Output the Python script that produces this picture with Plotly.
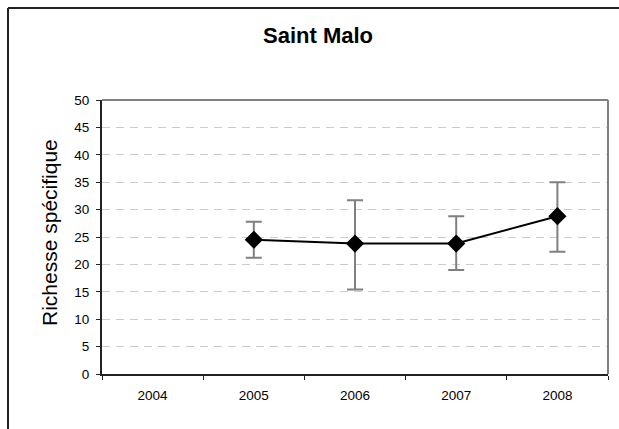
import plotly.graph_objects as go

years = ["2004", "2005", "2006", "2007", "2008"]
richesse = [None, 24.5, 23.8, 23.8, 28.8]
err_plus = [None, 3.3, 7.9, 5.0, 6.2]
err_minus = [None, 3.3, 8.4, 4.8, 6.5]
y_ticks = [0, 5, 10, 15, 20, 25, 30, 35, 40, 45, 50]

FONT = "Liberation Sans, Arial, sans-serif"

fig = go.Figure()
fig.add_trace(go.Scatter(
    x=years, y=richesse, mode="lines+markers",
    line=dict(color="black", width=2),
    marker=dict(symbol="diamond", size=14, color="black"),
    error_y=dict(type="data", symmetric=False, array=err_plus, arrayminus=err_minus,
                 color="#808080", thickness=2, width=8),
    connectgaps=False, showlegend=False,
))

# plot area geometry in pixels
L, R, T, B, W, H = 102, 608, 100, 374, 619, 429
pw, ph = R - L, B - T

def px_x(x):
    return (x - L) / pw

def px_y(y):
    return (B - y) / ph

shapes = [
    # outer chart border (left and top visible)
    dict(type="line", xref="paper", yref="paper", x0=px_x(8), x1=px_x(8), y0=px_y(8), y1=px_y(429),
         line=dict(color="#222222", width=2), layer="above"),
    dict(type="line", xref="paper", yref="paper", x0=px_x(8), x1=px_x(619), y0=px_y(8), y1=px_y(8),
         line=dict(color="#222222", width=2), layer="above"),
    # plot area top and right border (gray)
    dict(type="line", xref="paper", yref="paper", x0=0, x1=1, y0=1, y1=1,
         line=dict(color="#808080", width=2), layer="above"),
    dict(type="line", xref="paper", yref="paper", x0=1, x1=1, y0=0, y1=1,
         line=dict(color="#808080", width=2), layer="above"),
]

fig.update_layout(
    width=W, height=H, autosize=False,
    margin=dict(l=L, r=W - R, t=T, b=H - B, pad=0),
    paper_bgcolor="white", plot_bgcolor="white",
    font=dict(family=FONT, color="black", size=13.5),
    title=dict(text="<b>Saint Malo</b>", x=px_x(318), xref="paper", xanchor="center",
               y=1 - 35 / H, yanchor="middle", font=dict(size=22, family=FONT)),
    shapes=shapes,
    annotations=[dict(
        text="Richesse spécifique", textangle=-90, xref="paper", yref="paper",
        x=px_x(49), y=px_y(233), xanchor="center", yanchor="middle", showarrow=False,
        font=dict(size=21, family=FONT, color="black"),
    )],
    xaxis=dict(
        type="category", categoryorder="array", categoryarray=years,
        range=[-0.5, 4.5], tickson="boundaries",
        showline=True, linecolor="#222222", linewidth=2,
        ticks="outside", ticklen=4, tickcolor="#222222", tickwidth=1,
        ticklabelstandoff=8,
        showgrid=False, zeroline=False, fixedrange=True,
        tickfont=dict(size=13.5, family=FONT),
    ),
    yaxis=dict(
        range=[0, 50], tickvals=y_ticks, ticktext=[str(v) for v in y_ticks],
        showline=True, linecolor="#222222", linewidth=2,
        ticks="outside", ticklen=4, tickcolor="#222222",
        ticklabelstandoff=4,
        showgrid=True, gridcolor="#cccccc", griddash="8px,6px", gridwidth=1,
        zeroline=False,
        tickfont=dict(size=13.5, family=FONT),
    ),
)

fig.write_html("out.html")
